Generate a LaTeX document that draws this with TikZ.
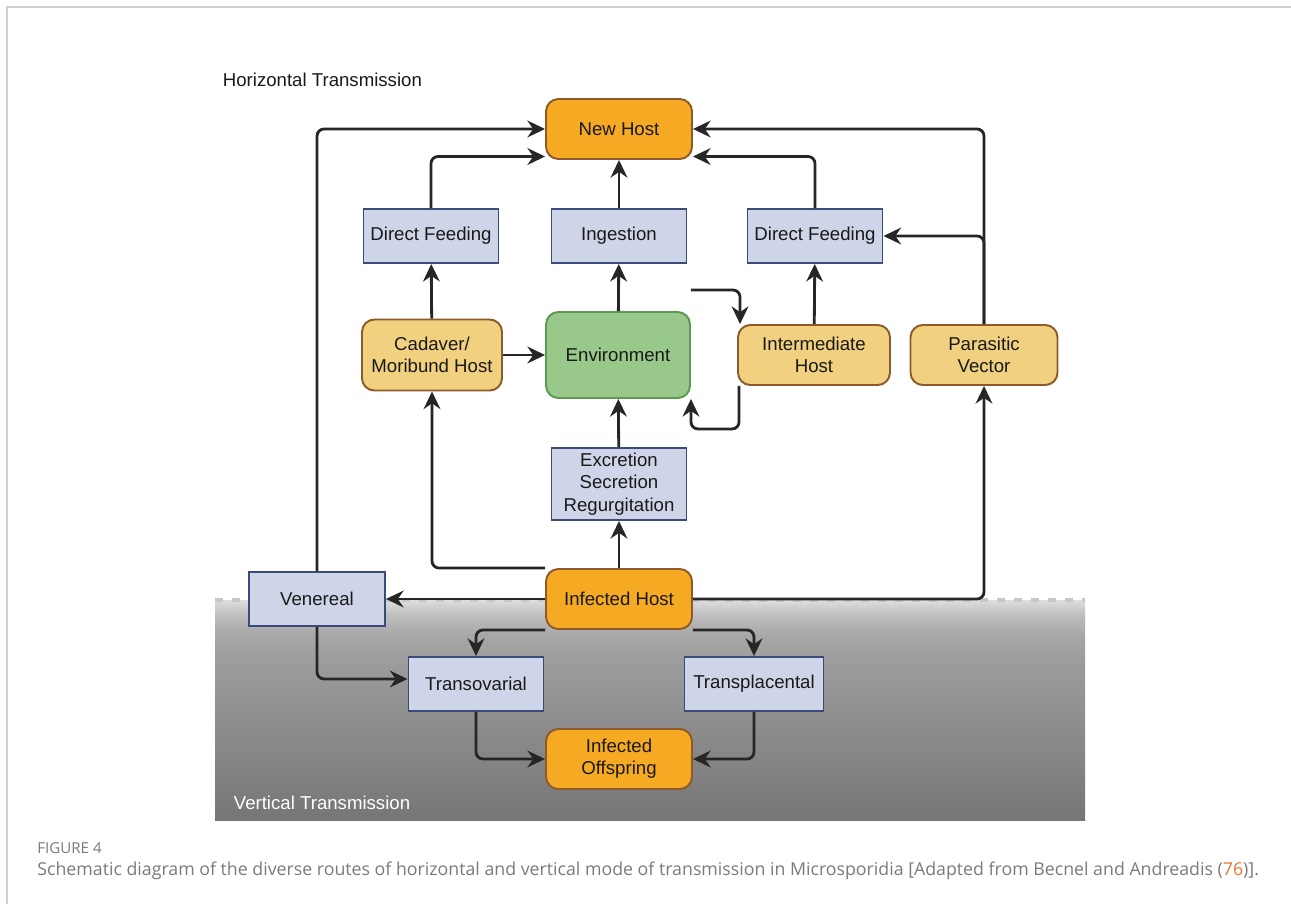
\documentclass[tikz,border=0pt]{standalone}
\usepackage{fontspec}
\setmainfont{Liberation Sans}
\newfontfamily\capfont{Open Sans}
\usetikzlibrary{arrows.meta}
\definecolor{hostorange}{HTML}{F6AA24}
\definecolor{paleorange}{HTML}{F1D07F}
\definecolor{hostborder}{HTML}{8E5A2A}
\definecolor{envgreen}{HTML}{98C98B}
\definecolor{envborder}{HTML}{5C9A52}
\definecolor{routeblue}{HTML}{CFD5E8}
\definecolor{routeborder}{HTML}{3B4A78}
\definecolor{linkdark}{HTML}{262626}
\definecolor{capgray}{HTML}{7A7A7A}
\definecolor{refred}{HTML}{E8762D}
\definecolor{vzlow}{HTML}{767676}
\definecolor{vzmid}{HTML}{9C9C9C}
\definecolor{vzhigh}{HTML}{A7A7A7}
\definecolor{vzedge}{HTML}{BDBDBD}
\definecolor{vztop}{HTML}{DEDEDE}
\pgfdeclareverticalshading{vertzone}{100bp}{color(0bp)=(vzlow); color(25bp)=(vzlow);
  color(61bp)=(vzmid); color(67bp)=(vzhigh); color(71.5bp)=(vzedge); color(75bp)=(vztop); color(100bp)=(vztop)}

\begin{document}
\begin{tikzpicture}[
  x=0.02cm, y=-0.02cm,
  base/.style={font=\fontsize{10.6}{12.7}\selectfont, align=center, inner sep=2pt, text=black!90},
  host/.style={base, rectangle, rounded corners=7pt, draw=hostborder, fill=hostorange,
               line width=1.1pt, minimum width=2.92cm, minimum height=1.2cm},
  palehost/.style={host, fill=paleorange},
  envbox/.style={base, rectangle, rounded corners=7pt, draw=envborder, fill=envgreen,
                 line width=1.1pt, minimum width=2.88cm, minimum height=1.72cm},
  route/.style={base, rectangle, draw=routeborder, fill=routeblue, line width=1.1pt,
                minimum width=2.7cm, minimum height=1.08cm},
  arrow/.style={-{Stealth[length=10pt,width=9.5pt]}, line width=1.6pt, color=linkdark, rounded corners=4pt},
]
  \useasboundingbox (0,0) rectangle (1291,903);
  \draw[black!18, line width=1pt] (7,920) -- (7,7) -- (1310,7);

  \shade[shading=vertzone] (215,600) rectangle (1085,820);
  \draw[black!22, line width=2.8pt, dash pattern=on 0.16cm off 0.18cm] (215,600) -- (1085,600);

  \node[base, anchor=west] (htitle) at (219,80) {Horizontal Transmission};
  \node[base, anchor=west, text=white] (vtitle) at (230,803) {Vertical Transmission};

  \node[host] (newhost) at (619,129) {New Host};
  \node[route] (dfleft) at (431,236) {Direct Feeding};
  \node[route] (ingest) at (619,236) {Ingestion};
  \node[route] (dfright) at (815,236) {Direct Feeding};
  \node[palehost, minimum width=2.8cm, minimum height=1.42cm] (cadaver) at (432,355) {Cadaver/\\Moribund Host};
  \node[envbox] (env) at (618,355) {Environment};
  \node[palehost, minimum width=3.04cm] (interhost) at (814,355) {Intermediate\\Host};
  \node[palehost, minimum width=2.94cm] (vector) at (984,355) {Parasitic\\Vector};
  \node[route, minimum height=1.44cm] (excret) at (619,484) {Excretion\\Secretion\\Regurgitation};
  \node[host] (infhost) at (619,599) {Infected Host};
  \node[route, minimum width=2.72cm] (venereal) at (317,599) {Venereal};
  \node[route] (transov) at (476,684) {Transovarial};
  \node[route, minimum width=2.78cm] (transpl) at (754,684) {Transplacental};
  \node[host] (offspring) at (619,759) {Infected\\Offspring};

  \draw[arrow] (infhost) -- (excret);
  \draw[arrow] (excret) -- (env);
  \draw[arrow] (env) -- (ingest);
  \draw[arrow] (ingest) -- (newhost);
  \draw[arrow] (cadaver) -- (env);
  \draw[arrow] (cadaver) -- (dfleft);
  \draw[arrow] (interhost) -- (dfright);
  \draw[arrow] (infhost.north west) -| (cadaver.south);
  \draw[arrow] (dfleft.north) |- ([yshift=-0.55cm]newhost.west);
  \draw[arrow] (dfright.north) |- ([yshift=-0.55cm]newhost.east);
  \draw[arrow] (venereal.north) |- (newhost.west);
  \draw[arrow] (vector.north) |- (newhost.east);
  \draw[arrow] (vector.north) |- (dfright.east);
  \draw[arrow] ([yshift=0.42cm]env.north east) -| ([xshift=0.06cm]interhost.north west);
  \draw[arrow] ([xshift=0.04cm]interhost.south west) -- ++(0,43) -| (env.south east);
  \draw[arrow] (infhost) -- (venereal);
  \draw[arrow] (infhost.east) -| (vector.south);
  \draw[arrow] (infhost.south west) -| (transov.north);
  \draw[arrow] (infhost.south east) -| (transpl.north);
  \draw[arrow] (venereal.south) |- ([yshift=0.1cm]transov.west);
  \draw[arrow] (transov.south) |- (offspring.west);
  \draw[arrow] (transpl.south) |- (offspring.east);

  \node[anchor=west, inner sep=0pt, text=capgray, font=\capfont\fontsize{8.6}{10}\selectfont] (fignum) at (37,848) {FIGURE 4};
  \node[anchor=west, inner sep=0pt, text=capgray, font=\capfont\fontsize{10.1}{12}\selectfont] (caption) at (37,871)
    {Schematic diagram of the diverse routes of horizontal and vertical mode of transmission in Microsporidia [Adapted from Becnel and Andreadis (\textcolor{refred}{76})].};
\end{tikzpicture}
\end{document}
